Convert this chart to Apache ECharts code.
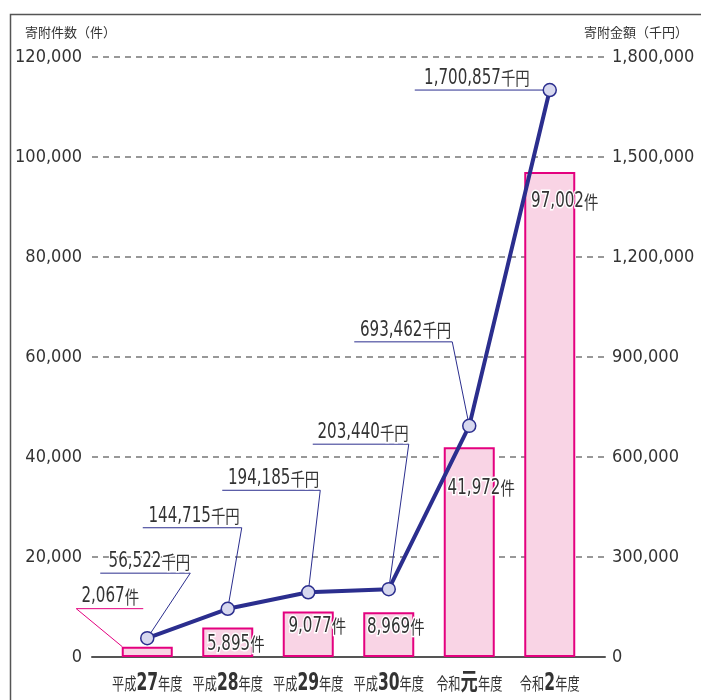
<!DOCTYPE html>
<html>
<head>
<meta charset="utf-8">
<script src="https://cdn.jsdelivr.net/npm/echarts@6/dist/echarts.min.js"></script>
<style>
  html, body { margin: 0; padding: 0; background: #fff; }
  #chart { width: 701px; height: 700px; }
</style>
</head>
<body>
<div id="chart"></div>
<script>
// data
const eraNames = ['平成', '平成', '平成', '平成', '令和', '令和'];
const eraYears = ['27', '28', '29', '30', '元', '2'];
const categories = ['平成27年度', '平成28年度', '平成29年度', '平成30年度', '令和元年度', '令和2年度'];
const counts = [2067, 5895, 9077, 8969, 41972, 97002];            // 寄附件数（件）
const amounts = [56522, 144715, 194185, 203440, 693462, 1700857];  // 寄附金額（千円）
const countTicks = { min: 0, max: 120000, interval: 20000 };
const amountTicks = { min: 0, max: 1800000, interval: 300000 };

// label placement relative to the point: [underline start dx, underline end dx, underline dy, text dx from end]
const amountLabelPos = [
    [-47, 43, -65, 0],
    [-85, 14, -81, -2],
    [-86, 12, -102, -1],
    [-76, 20, -145, 0],
    [-115, -17, -84, -1],
    [-135, 0, 0, -20]
];
// count label centre relative to bar top centre
const countLabelPos = [[-37, -50], [8, 17], [9, 15], [7, 15], [12, 41], [15, 30]];

const NAVY = '#2b2e8e';
const PINK = '#e4007f';
const NUM_FONT = "'DejaVu Sans Condensed', 'DejaVu Sans', sans-serif";
const CJK_FONT = "'Noto Sans CJK JP', sans-serif";
const NARROW = 0.8;
const fmt = v => v.toLocaleString('en-US');

const labelRich = {
    n: { fontFamily: NUM_FONT, fontSize: 21, fill: '#333' },
    u: { fontFamily: CJK_FONT, fontSize: 18, fill: '#333' }
};
const catRich = {
    a: { fontFamily: CJK_FONT, fontSize: 17, fill: '#333' },
    b: { fontFamily: NUM_FONT + ", 'Noto Sans CJK JP'", fontSize: 24, fontWeight: 'bold', fill: '#333' }
};

const chart = echarts.init(document.getElementById('chart'));

chart.setOption({
    animation: false,
    backgroundColor: '#fff',
    title: [
        { text: '寄附件数（件）', left: 20, top: 21,
          textStyle: { fontFamily: CJK_FONT, fontSize: 13, fontWeight: 'normal', color: '#333' } },
        { text: '寄附金額（千円）', right: 8, top: 21,
          textStyle: { fontFamily: CJK_FONT, fontSize: 13, fontWeight: 'normal', color: '#333' } }
    ],
    graphic: [{
        type: 'rect', left: 8, top: 12, shape: { width: 800, height: 800 },
        style: { fill: 'none', stroke: '#555', lineWidth: 1.5 }, silent: true, z: -10
    }],
    grid: [
        { left: 107, right: 111, top: 57, bottom: 43 },
        { left: 92, right: 96, top: 57, bottom: 43 }
    ],
    xAxis: [{
        type: 'category', gridIndex: 0, data: categories,
        axisLine: { show: false }, axisTick: { show: false }, axisLabel: { show: false }
    }, {
        type: 'value', gridIndex: 1, min: 0, max: 1,
        axisLine: { show: true, lineStyle: { color: '#555', width: 2 } },
        axisTick: { show: false }, axisLabel: { show: false }, splitLine: { show: false }
    }],
    yAxis: [
        { type: 'value', gridIndex: 0, ...countTicks, show: false, splitLine: { show: false } },
        { type: 'value', gridIndex: 0, ...amountTicks, show: false, splitLine: { show: false } },
        {
            type: 'value', gridIndex: 1, ...countTicks, position: 'left',
            axisLine: { show: false }, axisTick: { show: false },
            axisLabel: { margin: 10, formatter: fmt, fontFamily: NUM_FONT, fontSize: 18, color: '#333' },
            splitLine: { lineStyle: { color: '#777', width: 1.5, type: [6, 5] } }
        },
        {
            type: 'value', gridIndex: 1, ...amountTicks, position: 'right',
            axisLine: { show: false }, axisTick: { show: false },
            axisLabel: { margin: 7, formatter: fmt, fontFamily: NUM_FONT, fontSize: 18, color: '#333' },
            splitLine: { show: false }
        }
    ],
    series: [
        {
            type: 'bar', xAxisIndex: 0, yAxisIndex: 0, data: counts, barWidth: 51, z: 2,
            itemStyle: { color: '#f9d4e5', borderColor: PINK, borderWidth: 2 }
        },
        {
            // 年度ラベル（幅を詰めて描く）
            type: 'custom', xAxisIndex: 0, yAxisIndex: 0, z: 3, silent: true,
            data: categories.map((c, i) => [i, 0]),
            renderItem: (params, api) => {
                const i = params.dataIndex;
                const p = api.coord([i, 0]);
                return {
                    type: 'text', x: p[0], y: p[1] + 27, scaleX: 0.72,
                    style: {
                        text: `{a|${eraNames[i]}}{b|${eraYears[i]}}{a|年度}`, rich: catRich,
                        align: 'center', verticalAlign: 'middle'
                    }
                };
            }
        },
        {
            // 金額ラベルと引出線
            type: 'custom', xAxisIndex: 0, yAxisIndex: 1, z: 3, silent: true,
            data: amounts.map((v, i) => [i, v]),
            renderItem: (params, api) => {
                const i = params.dataIndex;
                const p = api.coord([i, api.value(1)]);
                const [a, b, dy, tdx] = amountLabelPos[i];
                const y = p[1] + dy;
                return {
                    type: 'group',
                    children: [{
                        type: 'polyline',
                        shape: { points: [[p[0] + a, y], [p[0] + b, y], [p[0], p[1]]] },
                        style: { stroke: NAVY, lineWidth: 1, fill: null }
                    }, {
                        type: 'text', x: p[0] + b + tdx, y: y - 1, scaleX: NARROW,
                        style: {
                            text: `{n|${fmt(amounts[i])}}{u|千円}`, rich: labelRich,
                            align: 'right', verticalAlign: 'bottom',
                            stroke: '#fff', lineWidth: 3
                        }
                    }]
                };
            }
        },
        {
            type: 'line', xAxisIndex: 0, yAxisIndex: 1, data: amounts, z: 4,
            symbol: 'circle', symbolSize: 13,
            lineStyle: { color: NAVY, width: 4 },
            itemStyle: { color: '#d7d8ef', borderColor: NAVY, borderWidth: 1.5 }
        },
        {
            // 件数ラベル
            type: 'custom', xAxisIndex: 0, yAxisIndex: 0, z: 5, silent: true,
            data: counts.map((v, i) => [i, v]),
            renderItem: (params, api) => {
                const i = params.dataIndex;
                const p = api.coord([i, api.value(1)]);
                const [dx, dy] = countLabelPos[i];
                const children = [{
                    type: 'text', x: p[0] + dx, y: p[1] + dy, scaleX: NARROW,
                    style: {
                        text: `{n|${fmt(counts[i])}}{u|件}`, rich: labelRich,
                        align: 'center', verticalAlign: 'middle',
                        stroke: '#fff', lineWidth: 3
                    }
                }];
                if (i === 0) {
                    const left = p[0] - 25;
                    const y = p[1] - 38;
                    children.unshift({
                        type: 'polyline',
                        shape: { points: [[left, p[1]], [p[0] - 71, y], [p[0] - 4, y]] },
                        style: { stroke: PINK, lineWidth: 1, fill: null }
                    });
                    children[1].y = y - 12;
                }
                return { type: 'group', children };
            }
        }
    ]
});
</script>
</body>
</html>
